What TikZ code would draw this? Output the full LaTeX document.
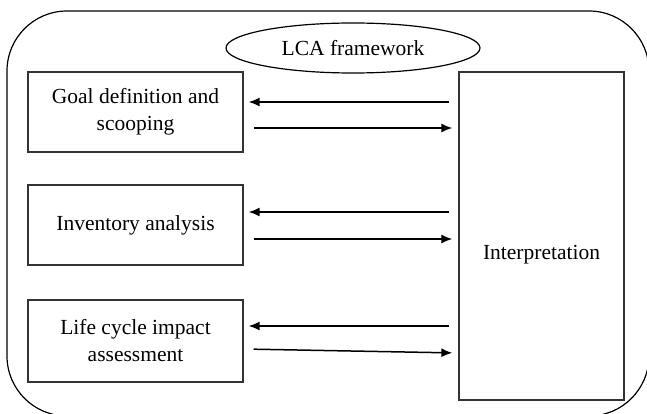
\documentclass[tikz,border=0pt]{standalone}
\usepackage{fontspec}
\setmainfont{Liberation Serif}
\usetikzlibrary{shapes.geometric,arrows.meta}

\begin{document}
\begin{tikzpicture}[x=1pt, y=-1pt,
                    stage/.style={draw=black!80, line width=1.3pt, minimum width=215pt, align=center,
                                  font=\fontsize{21.5}{27}\selectfont},
                    arr/.style={line width=1.5pt, -{Latex[length=11pt,width=9pt]}}]
                    \clip (0,0) rectangle (647,414);
                    \draw[line width=1.2pt, rounded corners=60pt] (7,11) rectangle (649,416);
                    \node[draw, ellipse, line width=1.2pt, minimum width=254pt, minimum height=50pt,
                          font=\fontsize{21.5}{27}\selectfont] (lca) at (353,48) {LCA framework};
                    \node[stage, minimum height=80pt] (goal) at (135.5,112) {Goal definition and\\scooping};
                    \node[stage, minimum height=80pt] (inv) at (135.5,225) {Inventory analysis};
                    \node[stage, minimum height=82pt] (lcia) at (135.5,341) {Life cycle impact\\assessment};
                    \node[draw=black!80, line width=1.3pt, minimum width=165pt, minimum height=328pt] (interp) at (541.5,236) {};
                    \node[font=\fontsize{21.5}{27}\selectfont] (interptext) at (541.5,255) {Interpretation};
                    \draw[arr, shorten <=9pt, shorten >=5pt] (interp.west |- 0,102) -- (goal.east |- 0,102);
                    \draw[arr, shorten <=10pt, shorten >=6pt] (goal.east |- 0,128) -- (interp.west |- 0,128);
                    \draw[arr, shorten <=9pt, shorten >=5pt] (interp.west |- 0,212) -- (inv.east |- 0,212);
                    \draw[arr, shorten <=10pt, shorten >=6pt] (inv.east |- 0,239) -- (interp.west |- 0,239);
                    \draw[arr, shorten <=9pt, shorten >=5pt] (interp.west |- 0,326) -- (lcia.east |- 0,326);
                    \draw[arr, shorten <=10pt, shorten >=6pt] (lcia.east |- 0,349) -- (interp.west |- 0,353);
                \end{tikzpicture}
\end{document}
